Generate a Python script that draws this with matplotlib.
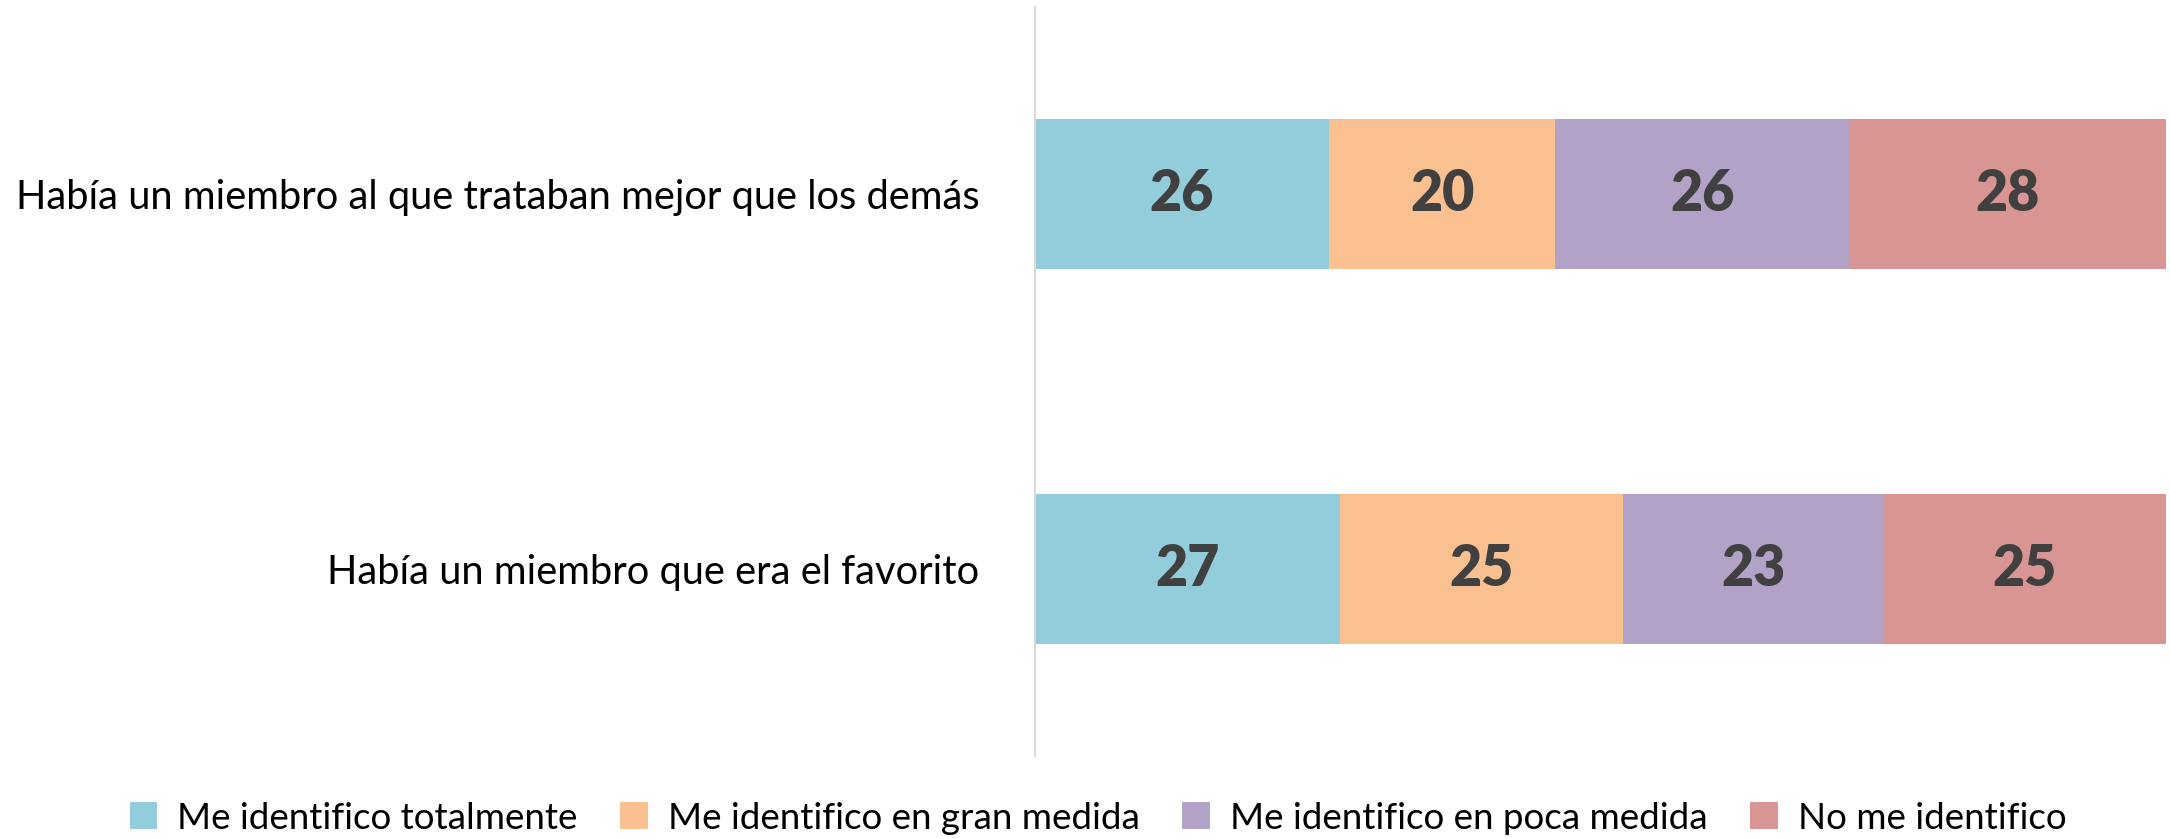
import matplotlib
matplotlib.use("Agg")
import matplotlib.pyplot as plt
from matplotlib.patches import Patch

categories = ["Había un miembro al que trataban mejor que los demás",
              "Había un miembro que era el favorito"]
series_names = ["Me identifico totalmente", "Me identifico en gran medida",
                "Me identifico en poca medida", "No me identifico"]
totalmente = [26, 27]
gran_medida = [20, 25]
poca_medida = [26, 23]
no_identifico = [28, 25]
colors = ["#93CDDC", "#FAC090", "#B3A2C7", "#D99594"]

plt.rcParams['font.family'] = ['Lato', 'DejaVu Sans']

fig = plt.figure(figsize=(21.7, 8.39), dpi=100)
ax = fig.add_axes([1035/2170, 1 - 756/839, 1131/2170, 749/839])

series = [totalmente, gran_medida, poca_medida, no_identifico]
ypos = list(range(len(categories)))
left = [0] * len(categories)
for vals, name, c in zip(series, series_names, colors):
    ax.barh(ypos, vals, left=left, height=0.4, color=c, label=name)
    for i, (l, v) in enumerate(zip(left, vals)):
        ax.text(l + v / 2, ypos[i], f"{v}", ha="center", va="center",
                fontsize=40, fontweight="heavy", color="#404040")
    left = [l + v for l, v in zip(left, vals)]

ax.set_xlim(0, 100)
ax.set_ylim(1.5, -0.5)
ax.set_yticks(ypos)
ax.set_yticklabels(categories, fontsize=28.7, color="#000000")
ax.tick_params(axis='y', length=0, pad=40)
ax.set_xticks([])
for s in ["top", "right", "bottom"]:
    ax.spines[s].set_visible(False)
ax.spines["left"].set_color("#D9D9D9")
ax.spines["left"].set_linewidth(1.5)

handles = [Patch(facecolor=c, label=n) for c, n in zip(colors, series_names)]
fig.legend(handles=handles, loc="center", bbox_to_anchor=(0.506, 0.025),
           ncol=4, frameon=False, fontsize=26.5, handlelength=0.75,
           handleheight=0.75, handletextpad=0.55, columnspacing=1.15)

fig.savefig("out.png", dpi=100)
